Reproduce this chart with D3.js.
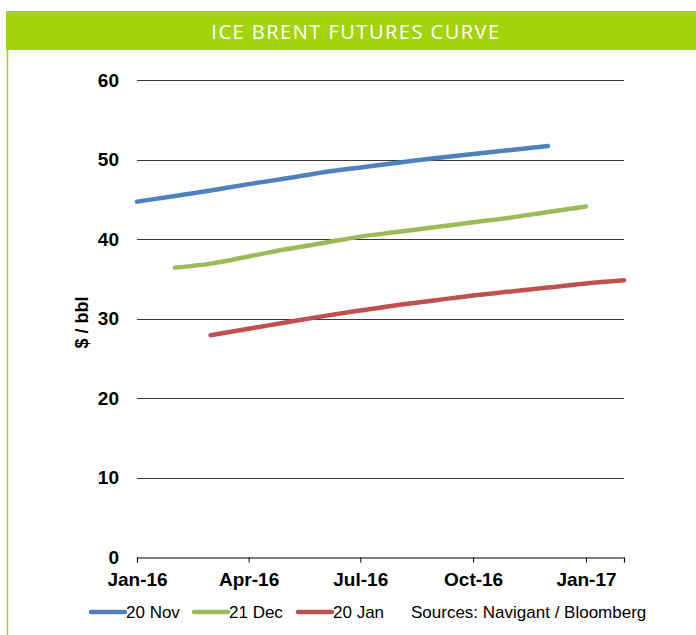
<!DOCTYPE html>
<html>
<head>
<meta charset="utf-8">
<script src="https://cdn.jsdelivr.net/npm/d3@7"></script>
<style>
  body { margin: 0; background: #fff; }
  svg { display: block; }
</style>
</head>
<body>
<div id="chart"></div>
<script>
// futures curves, monthly contracts
const months = ["2016-01", "2016-02", "2016-03", "2016-04", "2016-05", "2016-06", "2016-07",
  "2016-08", "2016-09", "2016-10", "2016-11", "2016-12", "2017-01", "2017-02"];
const nov20 = [44.7, 45.4, 46.1, 46.9, 47.6, 48.4, 49.0, 49.6, 50.2, 50.7, 51.2, 51.7, null, null];
const dec21 = [null, 36.4, 36.9, 37.8, 38.7, 39.5, 40.3, 40.9, 41.5, 42.1, 42.7, 43.4, 44.1, null];
const jan20 = [null, null, 27.9, 28.7, 29.5, 30.3, 31.0, 31.7, 32.3, 32.9, 33.4, 33.9, 34.4, 34.8];
const yTicks = [0, 10, 20, 30, 40, 50, 60];
const xTicks = ["2016-01", "2016-04", "2016-07", "2016-10", "2017-01"];

const series = [
  { name: "20 Nov", values: nov20, color: "#4f81bd" },
  { name: "21 Dec", values: dec21, color: "#9bbb59" },
  { name: "20 Jan", values: jan20, color: "#c0504d" }
];

const width = 696, height = 635;
const margin = { top: 80, right: 72, bottom: 78, left: 137 };
const parse = d3.timeParse("%Y-%m");
const boldFont = "bold 19px 'Liberation Sans', Arial, sans-serif";

const svg = d3.select("#chart").append("svg")
  .attr("width", width)
  .attr("height", height);

// header band + left border
const green = "#a3d409";
svg.append("rect")
  .attr("x", 6).attr("y", 11)
  .attr("width", width - 6).attr("height", 39)
  .attr("fill", green);
svg.append("line")
  .attr("x1", 7.5).attr("x2", 7.5)
  .attr("y1", 50).attr("y2", height)
  .attr("stroke", green).attr("stroke-width", 1.5);
svg.append("text")
  .attr("x", 356).attr("y", 39)
  .attr("text-anchor", "middle")
  .attr("fill", "#fff")
  .style("font", "20px 'Open Sans', sans-serif")
  .style("letter-spacing", "1.5px")
  .text("ICE BRENT FUTURES CURVE");

const x = d3.scaleTime()
  .domain([parse(months[0]), parse(months[months.length - 1])])
  .range([margin.left, width - margin.right]);

const y = d3.scaleLinear()
  .domain([0, 60])
  .range([height - margin.bottom, margin.top]);

// gridlines
svg.append("g")
  .selectAll("line")
  .data(yTicks.filter(d => d > 0))
  .join("line")
  .attr("x1", margin.left).attr("x2", width - margin.right)
  .attr("y1", d => Math.round(y(d)) + 0.5).attr("y2", d => Math.round(y(d)) + 0.5)
  .attr("stroke", "#3a3a3a")
  .attr("stroke-width", 1.2);

// y labels
svg.append("g")
  .selectAll("text")
  .data(yTicks)
  .join("text")
  .attr("x", 119)
  .attr("y", d => y(d))
  .attr("dy", "0.35em")
  .attr("text-anchor", "end")
  .style("font", boldFont)
  .text(d => d);

svg.append("text")
  .attr("transform", `translate(88, ${y(29.5)}) rotate(-90)`)
  .attr("text-anchor", "middle")
  .style("font", "bold 18px 'Liberation Sans', Arial, sans-serif")
  .text("$ / bbl");

// x axis
const xAxis = d3.axisBottom(x)
  .tickValues(xTicks.map(parse))
  .tickSize(5)
  .tickFormat(d3.timeFormat("%b-%y"));

const gx = svg.append("g")
  .attr("transform", `translate(0, ${Math.round(y(0)) + 0.5})`)
  .call(xAxis);
gx.select(".domain").attr("stroke", "#000").attr("stroke-width", 1.2);
gx.selectAll(".tick line").attr("stroke", "#000");
gx.selectAll(".tick text")
  .attr("dy", "1.1em")
  .attr("fill", "#000")
  .style("font", boldFont);

// lines
const line = d3.line()
  .defined(d => d.v != null)
  .x(d => x(d.t))
  .y(d => y(d.v))
  .curve(d3.curveMonotoneX);

svg.append("g")
  .selectAll("path")
  .data(series)
  .join("path")
  .attr("d", s => line(s.values.map((v, i) => ({ t: parse(months[i]), v }))))
  .attr("fill", "none")
  .attr("stroke", s => s.color)
  .attr("stroke-width", 4.5)
  .attr("stroke-linecap", "round")
  .attr("stroke-linejoin", "round");

// legend
const legendX = [91, 194, 298];
const legend = svg.append("g")
  .selectAll("g")
  .data(series)
  .join("g")
  .attr("transform", (d, i) => `translate(${legendX[i]}, 612)`);
legend.append("line")
  .attr("x1", 0).attr("x2", 34)
  .attr("stroke", d => d.color)
  .attr("stroke-width", 4.5)
  .attr("stroke-linecap", "round");
legend.append("text")
  .attr("x", 35)
  .attr("dy", "0.35em")
  .style("font", "17px 'Liberation Sans', Arial, sans-serif")
  .text(d => d.name);

svg.append("text")
  .attr("x", 411).attr("y", 612)
  .attr("dy", "0.35em")
  .style("font", "17px 'Liberation Sans', Arial, sans-serif")
  .text("Sources: Navigant / Bloomberg");
</script>
</body>
</html>
